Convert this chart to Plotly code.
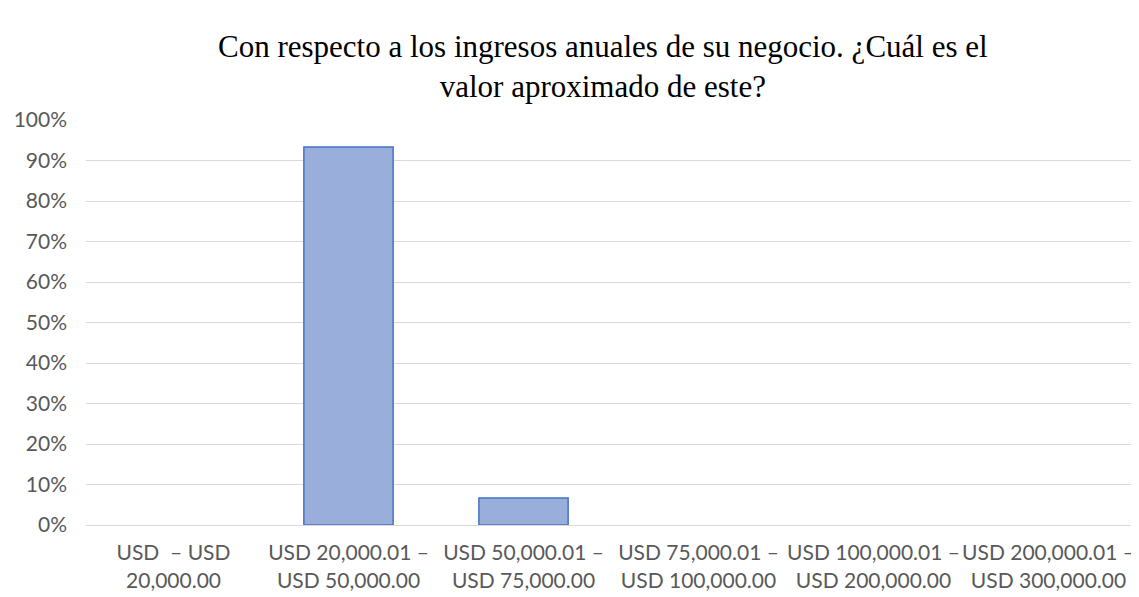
import plotly.graph_objects as go

categories = [
    "USD  – USD<br>20,000.00",
    "USD 20,000.01 –<br>USD 50,000.00",
    "USD 50,000.01 –<br>USD 75,000.00",
    "USD 75,000.01 –<br>USD 100,000.00",
    "USD 100,000.01 –<br>USD 200,000.00",
    "USD 200,000.01 –<br>USD 300,000.00",
]
values = [0.0, 0.9333, 0.0667, 0.0, 0.0, 0.0]
y_ticks = [i / 10 for i in range(11)]
y_tick_labels = [f"{i*10}%" for i in range(11)]
title_text = "Con respecto a los ingresos anuales de su negocio. ¿Cuál es el<br>valor aproximado de este?"

fig = go.Figure(
    go.Bar(
        x=categories,
        y=values,
        marker=dict(
            color="#9aaedb",
            line=dict(color="#4472c4", width=[0 if v == 0 else 1.5 for v in values]),
        ),
    )
)

fig.update_layout(
    width=1139,
    height=597,
    paper_bgcolor="white",
    plot_bgcolor="white",
    bargap=0.49,
    showlegend=False,
    margin=dict(l=78, r=11, t=112, b=80, autoexpand=False),
    font=dict(family="Lato", size=21, color="#595959"),
)

fig.add_annotation(
    text=title_text,
    xref="paper",
    yref="paper",
    x=0.4924,
    y=1 + 54 / 405,
    xanchor="center",
    yanchor="middle",
    showarrow=False,
    font=dict(family="Liberation Serif", size=31, color="black"),
)

fig.update_yaxes(
    range=[0, 1],
    tickvals=y_ticks,
    ticktext=y_tick_labels,
    showgrid=True,
    gridcolor="#d9d9d9",
    gridwidth=1,
    zeroline=False,
    showline=False,
    ticks="",
    ticklabelstandoff=18,
    tickfont=dict(family="Lato", size=21, color="#595959"),
)
fig.update_xaxes(
    showline=True,
    linecolor="#d9d9d9",
    linewidth=1,
    ticks="",
    tickangle=0,
    ticklabelstandoff=9,
    automargin=False,
    tickfont=dict(family="Lato", size=21, color="#595959"),
)

fig.write_html("out.html")
